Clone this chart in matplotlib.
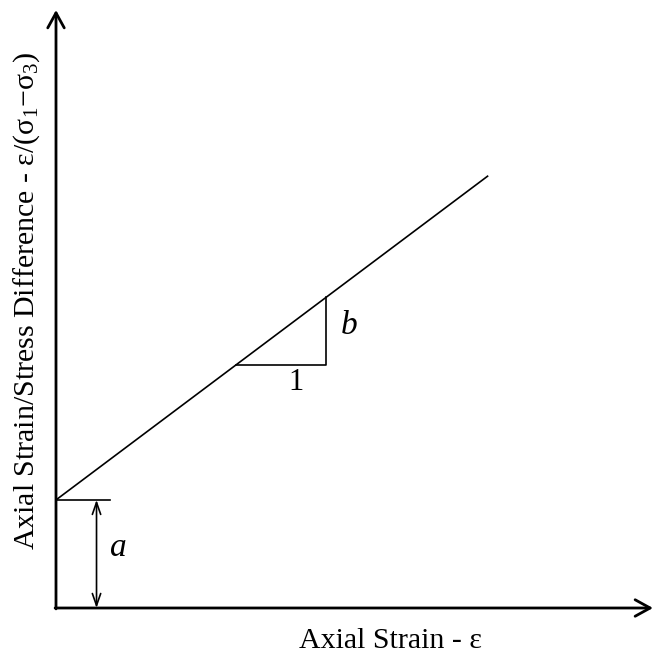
import matplotlib.pyplot as plt

plt.rcParams['font.family'] = ['Liberation Serif', 'DejaVu Serif']
plt.rcParams['mathtext.fontset'] = 'custom'
plt.rcParams['mathtext.rm'] = 'Liberation Serif'
plt.rcParams['mathtext.it'] = 'Liberation Serif:italic'

# Linear relation: eps/(s1 - s3) = a + b * eps
a = 1.2
b = 0.75
x_line = [0.0, 4.8]
tri_x = [2.0, 3.0]          # run of the slope triangle (= 1)
x_max, y_max = 6.63, 6.64

fig = plt.figure(figsize=(6.53, 6.60), dpi=100)
ax = fig.add_axes([56 / 653, 52 / 660, 597 / 653, 598 / 660])
ax.set_xlim(0, x_max)
ax.set_ylim(0, y_max)
ax.axis('off')

# Axes with open arrow heads
arr = dict(arrowstyle='->,head_length=0.4,head_width=0.22', lw=2, color='black',
           mutation_scale=27, shrinkA=0, shrinkB=0)
ax.annotate("", xy=(x_max, 0), xytext=(-0.01, 0), arrowprops=arr, annotation_clip=False)
ax.annotate("", xy=(0, y_max), xytext=(0, -0.01), arrowprops=arr, annotation_clip=False)

# Straight line
y_line = [a + b * x for x in x_line]
ax.plot(x_line, y_line, color='black', lw=1.2, solid_capstyle='butt')

# Slope triangle
y0 = a + b * tri_x[0]
y1 = a + b * tri_x[1]
ax.plot([tri_x[0], tri_x[1], tri_x[1]], [y0, y0, y1], color='black', lw=1.2)
ax.text(2.67, 2.5, "1", fontsize=22, ha='center', va='center')
ax.text(3.26, 3.13, "b", fontsize=24, style='italic', ha='center', va='center')

# Intercept marker
ax.plot([0, 0.6], [a, a], color='black', lw=1.2)
ax.annotate("", xy=(0.45, a), xytext=(0.45, 0),
            arrowprops=dict(arrowstyle='<->,head_length=0.43,head_width=0.15', lw=1.2,
                            color='black', mutation_scale=20, shrinkA=0, shrinkB=0))
ax.text(0.69, 0.67, "a", fontsize=24, style='italic', ha='center', va='center')

# Axis labels
ax.text(3.71, -0.37, "Axial Strain - ε", fontsize=21.5, ha='center', va='center')
ax.text(-0.33, 3.41, r"Axial Strain/Stress Difference - ε/(σ$_{1}$−σ$_{3}$)",
        fontsize=21.5, rotation=90, ha='center', va='center')

fig.savefig("out.png", dpi=100)
